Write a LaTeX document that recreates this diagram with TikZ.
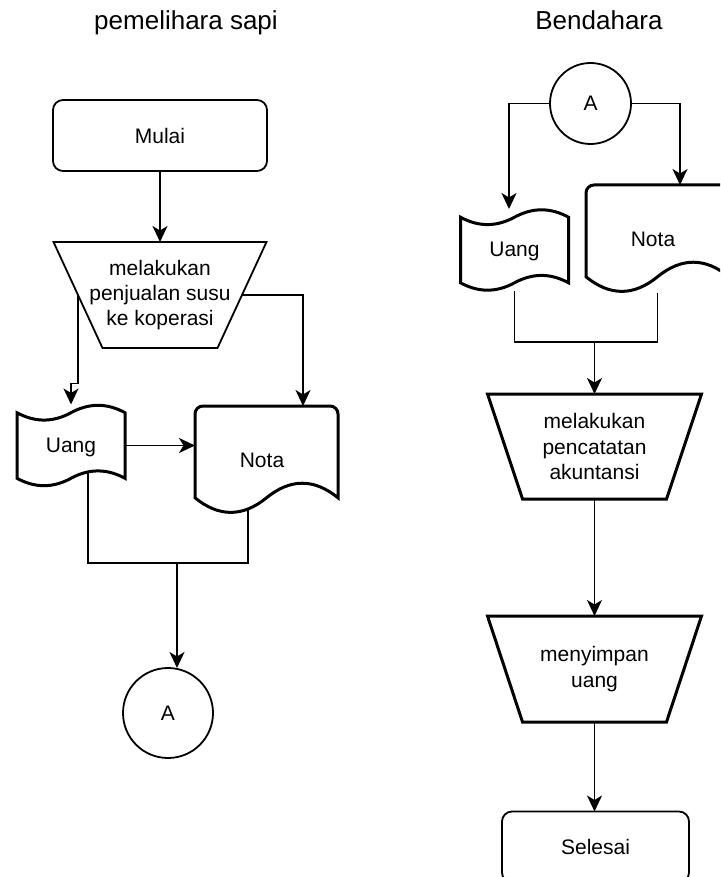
\documentclass[tikz,border=0pt]{standalone}
\usepackage{fontspec}
\setmainfont{Liberation Sans}
\usetikzlibrary{arrows.meta,calc}
\pgfdeclarelayer{bg}
\pgfsetlayers{bg,main}

\tikzset{
  lnthin/.style={line width=1.8pt},
  lnthick/.style={line width=3pt},
  conn/.style={line width=1.8pt},
  arr/.style={conn,-{Stealth[length=16pt,width=15pt,inset=4.5pt]}},
  lbl/.style={font=\fontsize{21}{25.2}\selectfont, align=center, inner sep=0pt, outer sep=0pt},
  ttl/.style={font=\fontsize{26}{31}\selectfont, inner sep=0pt},
}

\newcommand\TapeNode[6]{%
  \begin{scope}[shift={({#2-#4/2},{#3-#5/2})}]
    \draw[lnthick,fill=white] (0,{0.1*#5}) .. controls ({#4/6},{0.22*#5}) and ({#4/3},{0.22*#5}) .. ({#4/2},{0.1*#5})
      .. controls ({2*#4/3},{-0.02*#5}) and ({5*#4/6},{-0.02*#5}) .. (#4,{0.1*#5})
      -- (#4,{0.9*#5})
      .. controls ({5*#4/6},{0.78*#5}) and ({2*#4/3},{0.78*#5}) .. ({#4/2},{0.9*#5})
      .. controls ({#4/3},{1.02*#5}) and ({#4/6},{1.02*#5}) .. (0,{0.9*#5}) -- cycle;
  \end{scope}
  \node[lbl,minimum width=#4pt,minimum height=#5pt] (#1) at (#2,#3) {};
  \node[lbl] (#1-t) at ([yshift=-1.5pt]#1.center) {#6};
}

\newcommand\DocNode[6]{%
  \begin{scope}[shift={({#2-#4/2},{#3-#5/2})}]
    \draw[lnthick,fill=white] (0,{0.85*#5}) -- (0,8) arc[start angle=180,end angle=270,radius=8]
      -- ({#4-8},0) arc[start angle=270,end angle=360,radius=8]
      -- (#4,{0.85*#5})
      .. controls ({5*#4/6},{0.67*#5}) and ({2*#4/3},{0.67*#5}) .. ({#4/2},{0.85*#5})
      .. controls ({#4/3},{1.03*#5}) and ({#4/6},{1.03*#5}) .. (0,{0.85*#5}) -- cycle;
  \end{scope}
  \node[lbl,minimum width=#4pt,minimum height=#5pt] (#1) at (#2,#3) {};
  \node[lbl] (#1-t) at ([xshift=-4.5pt]#1.center) {#6};
}

\newcommand\TrapNode[8]{%
  \draw[#1,fill=white] ({#3-#5/2},{#4-#7/2}) -- ({#3+#5/2},{#4-#7/2}) -- ({#3+#6/2},{#4+#7/2}) -- ({#3-#6/2},{#4+#7/2}) -- cycle;
  \node[lbl,minimum width=#5pt,minimum height=#7pt] (#2) at (#3,#4) {#8};
  \coordinate (#2-l) at ({#3-(#5+#6)/4},#4);
  \coordinate (#2-r) at ({#3+(#5+#6)/4},#4);
}

\begin{document}
\begin{tikzpicture}[x=1pt,y=-1pt]
\useasboundingbox (0,0) rectangle (720,877);
\clip (0,0) rectangle (720,877);

% titles
\node[ttl,anchor=base] (ttlL) at (186,30) {pemelihara sapi};
\node[ttl,anchor=base] (ttlR) at (599,30) {Bendahara};

% left column
\node[draw,lnthin,rounded corners=10pt,lbl,minimum width=214pt,minimum height=71pt] (mulai) at (160,135.5) {Mulai};
\TrapNode{lnthin}{jual}{160}{295}{213}{115}{106}{melakukan\\penjualan susu\\ke koperasi}
\TapeNode{uangL}{71}{445.5}{108}{82}{Uang}
\DocNode{notaL}{266.5}{460}{143}{108}{Nota}
\node[draw,circle,lnthin,lbl,minimum size=90pt] (cL) at (168,713) {A};

% right column
\node[draw,circle,lnthin,lbl,minimum size=81pt] (cR) at (590.5,103.5) {A};
\TapeNode{uangR}{514.5}{250}{108}{82}{Uang}
\DocNode{notaR}{657.5}{239}{143}{108}{Nota}
\TrapNode{lnthick}{catat}{594.5}{446.5}{214}{144}{105}{melakukan\\pencatatan\\akuntansi}
\TrapNode{lnthick}{simpan}{594.5}{669}{214}{144}{106}{menyimpan\\uang}
\node[draw,lnthin,rounded corners=10pt,lbl,minimum width=187pt,minimum height=71pt] (selesai) at (595.5,847) {Selesai};

\coordinate (jL) at (177,563);
\coordinate (jR) at (594.5,342);

\begin{pgfonlayer}{bg}
  \draw[arr] (mulai.south) -- (jual.north);
  \draw[arr] (jual-l) |- ([yshift=21pt]uangL.north) -- (uangL.north);
  \draw[arr] (jual-r) -| ([xshift=36.5pt]notaL.north);
  \draw[arr] (uangL.east) -- (uangL.east -| notaL.west);
  \draw[conn] ([xshift=17pt]uangL.center) |- (jL);
  \draw[conn] ([xshift=-18.5pt]notaL.center) |- (jL);
  \draw[arr] (jL) -- (jL |- cL.north);

  \draw[arr] (cR.west) -| ([xshift=-5.5pt]uangR.north);
  \draw[arr] (cR.east) -| ([xshift=22.5pt]notaR.north);
  \draw[conn] (uangR.south) |- (jR);
  \draw[conn] (notaR.south) |- (jR);
  \draw[arr] (jR) -- (catat.north);
  \draw[arr] (catat.south) -- (simpan.north);
  \draw[arr] (simpan.south) -- (simpan.south |- selesai.north);
\end{pgfonlayer}
\end{tikzpicture}
\end{document}
